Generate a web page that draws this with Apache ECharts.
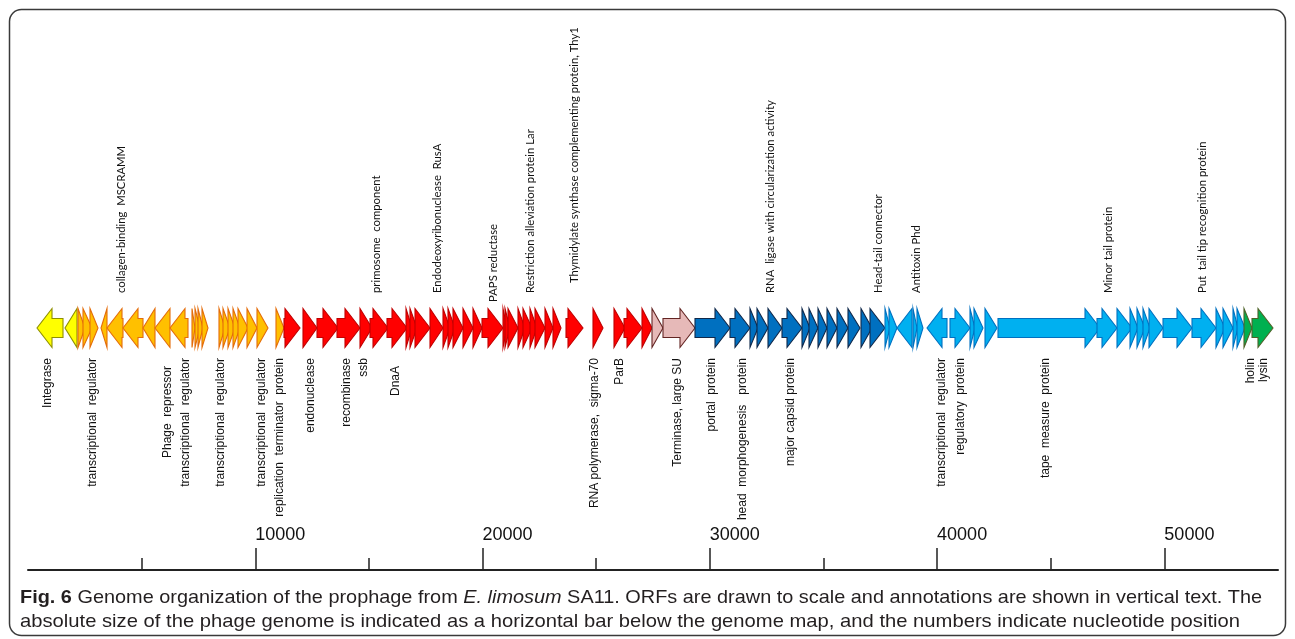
<!DOCTYPE html>
<html>
<head>
<meta charset="utf-8">
<script src="https://cdn.jsdelivr.net/npm/echarts@6/dist/echarts.min.js"></script>
<style>
  html, body { margin: 0; padding: 0; background: #ffffff; }
  #chart { width: 1295px; height: 639px; }
</style>
</head>
<body>
<div id="chart"></div>
<script>
// ORFs per functional module: [start nt, end nt, strand (+1 forward / -1 reverse)]
const integrationOrfs = [
  [396, 1540, -1], [1628, 2156, -1]
];
const regulationOrfs = [
  [2200, 2508, 1], [2420, 2816, 1], [2728, 3080, 1],
  [3212, 3476, -1], [3476, 4180, -1], [4180, 5060, -1], [5060, 5588, -1], [5588, 6248, -1], [6248, 7040, -1],
  [7216, 7348, 1], [7348, 7568, 1], [7480, 7700, 1], [7656, 7920, 1],
  [8404, 8668, 1], [8580, 8888, 1], [8800, 9108, 1], [9020, 9328, 1], [9240, 9680, 1], [9636, 10076, 1], [10076, 10560, 1],
  [10912, 11264, 1]
];
const replicationOrfs = [
  [11264, 11968, 1], [12100, 12716, 1], [12716, 13640, 1], [13596, 14608, 1], [14608, 15136, 1],
  [15048, 15840, 1], [15796, 16676, 1], [16632, 16896, 1], [16808, 17116, 1], [17028, 17688, 1],
  [17688, 18260, 1], [18260, 18568, 1], [18480, 18788, 1], [18700, 19140, 1], [19140, 19580, 1],
  [19580, 19976, 1], [19976, 20900, 1], [20900, 21076, 1], [20988, 21208, 1], [21120, 21560, 1],
  [21560, 21868, 1], [21780, 22176, 1], [22088, 22396, 1], [22308, 22748, 1], [22748, 23100, 1],
  [23100, 23452, 1], [23672, 24420, 1], [24860, 25300, 1], [25784, 26268, 1], [26224, 27016, 1],
  [27016, 27456, 1]
];
const packagingOrfs = [
  [27456, 27940, 1], [27940, 29348, 1]
];
const headOrfs = [
  [29348, 30888, 1], [30888, 31768, 1], [31768, 32120, 1], [32076, 32560, 1], [32560, 33176, 1],
  [33176, 34056, 1], [34056, 34408, 1], [34364, 34760, 1], [34760, 35156, 1], [35156, 35596, 1],
  [35596, 36080, 1], [36080, 36608, 1], [36652, 37136, 1], [37048, 37708, 1]
];
const tailOrfs = [
  [37708, 37928, 1], [37884, 38236, 1], [38236, 38896, -1], [38940, 39116, 1], [39116, 39380, 1],
  [39556, 40436, -1], [40568, 41448, 1], [41448, 41668, 1], [41624, 42020, 1], [42108, 42636, 1],
  [42680, 47168, 1], [47036, 47916, 1], [47916, 48576, 1], [48488, 48840, 1], [48796, 49148, 1],
  [49060, 49368, 1], [49324, 49940, 1], [49940, 51216, 1], [51216, 52272, 1], [52272, 52668, 1],
  [52580, 53020, 1], [53020, 53240, 1], [53196, 53548, 1]
];
const lysisOrfs = [
  [53504, 53856, 1], [53856, 54780, 1]
];

// Annotations above the map: [position nt, text]
const topLabels = [
  [4092, 'collagen-binding  MSCRAMM'],
  [15312, 'primosome  component'],
  [17996, 'Endodeoxyribonuclease  RusA'],
  [20460, 'PAPS reductase'],
  [22088, 'Restriction alleviation protein Lar'],
  [24024, 'Thymidylate synthase complementing protein, Thy1'],
  [32648, 'RNA  ligase with circularization activity'],
  [37400, 'Head-tail connector'],
  [39072, 'Antitoxin Phd'],
  [47520, 'Minor tail protein'],
  [51656, 'Put  tail tip recognition protein']
];
// Annotations below the map: [position nt, text]
const bottomLabels = [
  [880, 'Integrase'],
  [2860, 'transcriptional  regulator'],
  [6160, 'Phage  repressor'],
  [6952, 'transcriptional  regulator'],
  [8492, 'transcriptional  regulator'],
  [10296, 'transcriptional  regulator'],
  [11088, 'replication  terminator  protein'],
  [12452, 'endonuclease'],
  [14036, 'recombinase'],
  [14784, 'ssb'],
  [16192, 'DnaA'],
  [24948, 'RNA polymerase,  sigma-70'],
  [26048, 'ParB'],
  [28600, 'Terminase, large SU'],
  [30096, 'portal  protein'],
  [31460, 'head  morphogenesis   protein'],
  [33572, 'major capsid protein'],
  [40216, 'transcriptional  regulator'],
  [41052, 'regulatory  protein'],
  [44792, 'tape  measure  protein'],
  [53812, 'holin'],
  [54384, 'lysin']
];

// Scale bar
const genomeMax = 55000;
const majorTicks = [10000, 20000, 30000, 40000, 50000];
const minorTicks = [5000, 15000, 25000, 35000, 45000];

// Fill / outline per module
const moduleStyles = {
  integration: { fill: '#FFFF00', stroke: '#8F8F00' },
  regulation:  { fill: '#FFC000', stroke: '#E46C0A' },
  replication: { fill: '#FF0000', stroke: '#C00000' },
  packaging:   { fill: '#E6B9B8', stroke: '#632523' },
  head:        { fill: '#0070C0', stroke: '#10284A' },
  tail:        { fill: '#00B0F0', stroke: '#0070C0' },
  lysis:       { fill: '#00B050', stroke: '#4F6228' }
};
const modules = [
  ['integration', integrationOrfs], ['regulation', regulationOrfs], ['replication', replicationOrfs],
  ['packaging', packagingOrfs], ['head', headOrfs], ['tail', tailOrfs], ['lysis', lysisOrfs]
];

// Small vertical nudges for a few annotations (pixels)
const labelNudge = {
  'PAPS reductase': 9,
  'Thymidylate synthase complementing protein, Thy1': -10,
  'Phage  repressor': 8,
  'DnaA': 8
};

const HEAD_LEN = 15;   // arrow head length, px
const HEAD_HALF = 19.5;
const BODY_HALF = 9.5;

function arrowPoints(xs, xe, y, strand) {
  const len = xe - xs;
  const h = Math.min(len, HEAD_LEN);
  let pts;
  if (len <= HEAD_LEN) {
    pts = [[0, -HEAD_HALF], [len, 0], [0, HEAD_HALF]];
  } else {
    pts = [[0, -BODY_HALF], [len - h, -BODY_HALF], [len - h, -HEAD_HALF], [len, 0],
           [len - h, HEAD_HALF], [len - h, BODY_HALF], [0, BODY_HALF]];
  }
  return pts.map(p => strand > 0 ? [xs + p[0], y + p[1]] : [xe - p[0], y + p[1]]);
}

function orfSeries(name, orfs) {
  const st = moduleStyles[name];
  return {
    type: 'custom',
    name: name,
    clip: false,
    silent: true,
    data: orfs,
    renderItem: function (params, api) {
      const a = api.coord([api.value(0), 0]);
      const b = api.coord([api.value(1), 0]);
      return {
        type: 'polygon',
        shape: { points: arrowPoints(a[0], b[0], a[1], api.value(2)) },
        style: { fill: st.fill, stroke: st.stroke, lineWidth: 1.1, lineJoin: 'miter' }
      };
    }
  };
}

function labelSeries(labels, side) {
  return {
    type: 'custom',
    clip: false,
    silent: true,
    data: labels.map(l => [l[0], 0]),
    renderItem: function (params, api) {
      const p = api.coord([api.value(0), 0]);
      const text = labels[params.dataIndex][1];
      const nudge = labelNudge[text] || 0;
      const top = side === 'top';
      return {
        type: 'text',
        x: p[0],
        y: (top ? p[1] - 35 : p[1] + 30) + nudge,
        rotation: Math.PI / 2,
        style: {
          text: text,
          fill: '#111111',
          font: top ? '11.3px Lato, "Open Sans", sans-serif' : '12px "Liberation Sans", Arial, sans-serif',
          align: top ? 'left' : 'right',
          verticalAlign: 'middle'
        }
      };
    }
  };
}

// Caption pieces
const captionLine1 = [
  ['b', 'Fig. 6'],
  ['n', ' Genome organization of the prophage from '],
  ['i', 'E. limosum'],
  ['n', ' SA11. ORFs are drawn to scale and annotations are shown in vertical text. The']
];
const captionLine2 = [
  ['n', 'absolute size of the phage genome is indicated as a horizontal bar below the genome map, and the numbers indicate nucleotide position']
];

const capFamily = '"Liberation Sans Narrow", "Liberation Sans", Arial, sans-serif';
const capSize = 19;
const capFonts = {
  b: 'bold ' + capSize + 'px ' + capFamily,
  n: capSize + 'px ' + capFamily,
  i: 'italic ' + capSize + 'px ' + capFamily
};
const measureCtx = document.createElement('canvas').getContext('2d');
function lineWidth(parts) {
  return parts.reduce((w, p) => { measureCtx.font = capFonts[p[0]]; return w + measureCtx.measureText(p[1]).width; }, 0);
}
function richText(parts) {
  return parts.map(p => '{' + p[0] + '|' + p[1] + '}').join('');
}
const capRich = {
  b: { font: capFonts.b, fill: '#231f20' },
  n: { font: capFonts.n, fill: '#231f20' },
  i: { font: capFonts.i, fill: '#231f20' }
};
const line1Scale = 1242 / lineWidth(captionLine1);
const line2Scale = 1220 / lineWidth(captionLine2);

const chart = echarts.init(document.getElementById('chart'), null, { renderer: 'canvas' });
chart.setOption({
  animation: false,
  backgroundColor: '#ffffff',
  grid: { left: 28, right: 17, top: 86, bottom: 69, containLabel: false },
  xAxis: [
    {
      type: 'value', min: 0, max: genomeMax, position: 'bottom',
      axisLine: { show: true, onZero: false, lineStyle: { color: '#222222', width: 2 } },
      axisTick: { show: true, inside: true, length: 22, customValues: majorTicks, lineStyle: { color: '#222222', width: 1.5 } },
      axisLabel: {
        show: true, inside: true, customValues: majorTicks, margin: 26, align: 'left',
        formatter: function (v) { return String(v); },
        color: '#111111', fontSize: 18, fontFamily: '"Liberation Sans", Arial, sans-serif'
      },
      splitLine: { show: false }
    },
    {
      type: 'value', min: 0, max: genomeMax, position: 'bottom',
      axisLine: { show: false, onZero: false },
      axisTick: { show: true, inside: true, length: 12, customValues: minorTicks, lineStyle: { color: '#222222', width: 1.5 } },
      axisLabel: { show: false },
      splitLine: { show: false }
    }
  ],
  yAxis: { type: 'value', min: -1, max: 1, show: false },
  series: modules.map(m => orfSeries(m[0], m[1])).concat([
    labelSeries(topLabels, 'top'),
    labelSeries(bottomLabels, 'bottom')
  ]),
  graphic: [
    {
      type: 'rect', silent: true,
      shape: { x: 9.5, y: 9.5, width: 1276, height: 626, r: 12 },
      style: { fill: null, stroke: '#3a3a3a', lineWidth: 1.5 }
    },
    {
      type: 'text', silent: true, x: 20, y: 598, scaleX: line1Scale, originX: 0,
      style: { text: richText(captionLine1), rich: capRich, verticalAlign: 'middle', align: 'left' }
    },
    {
      type: 'text', silent: true, x: 20, y: 622, scaleX: line2Scale, originX: 0,
      style: { text: richText(captionLine2), rich: capRich, verticalAlign: 'middle', align: 'left' }
    }
  ]
});
</script>
</body>
</html>
